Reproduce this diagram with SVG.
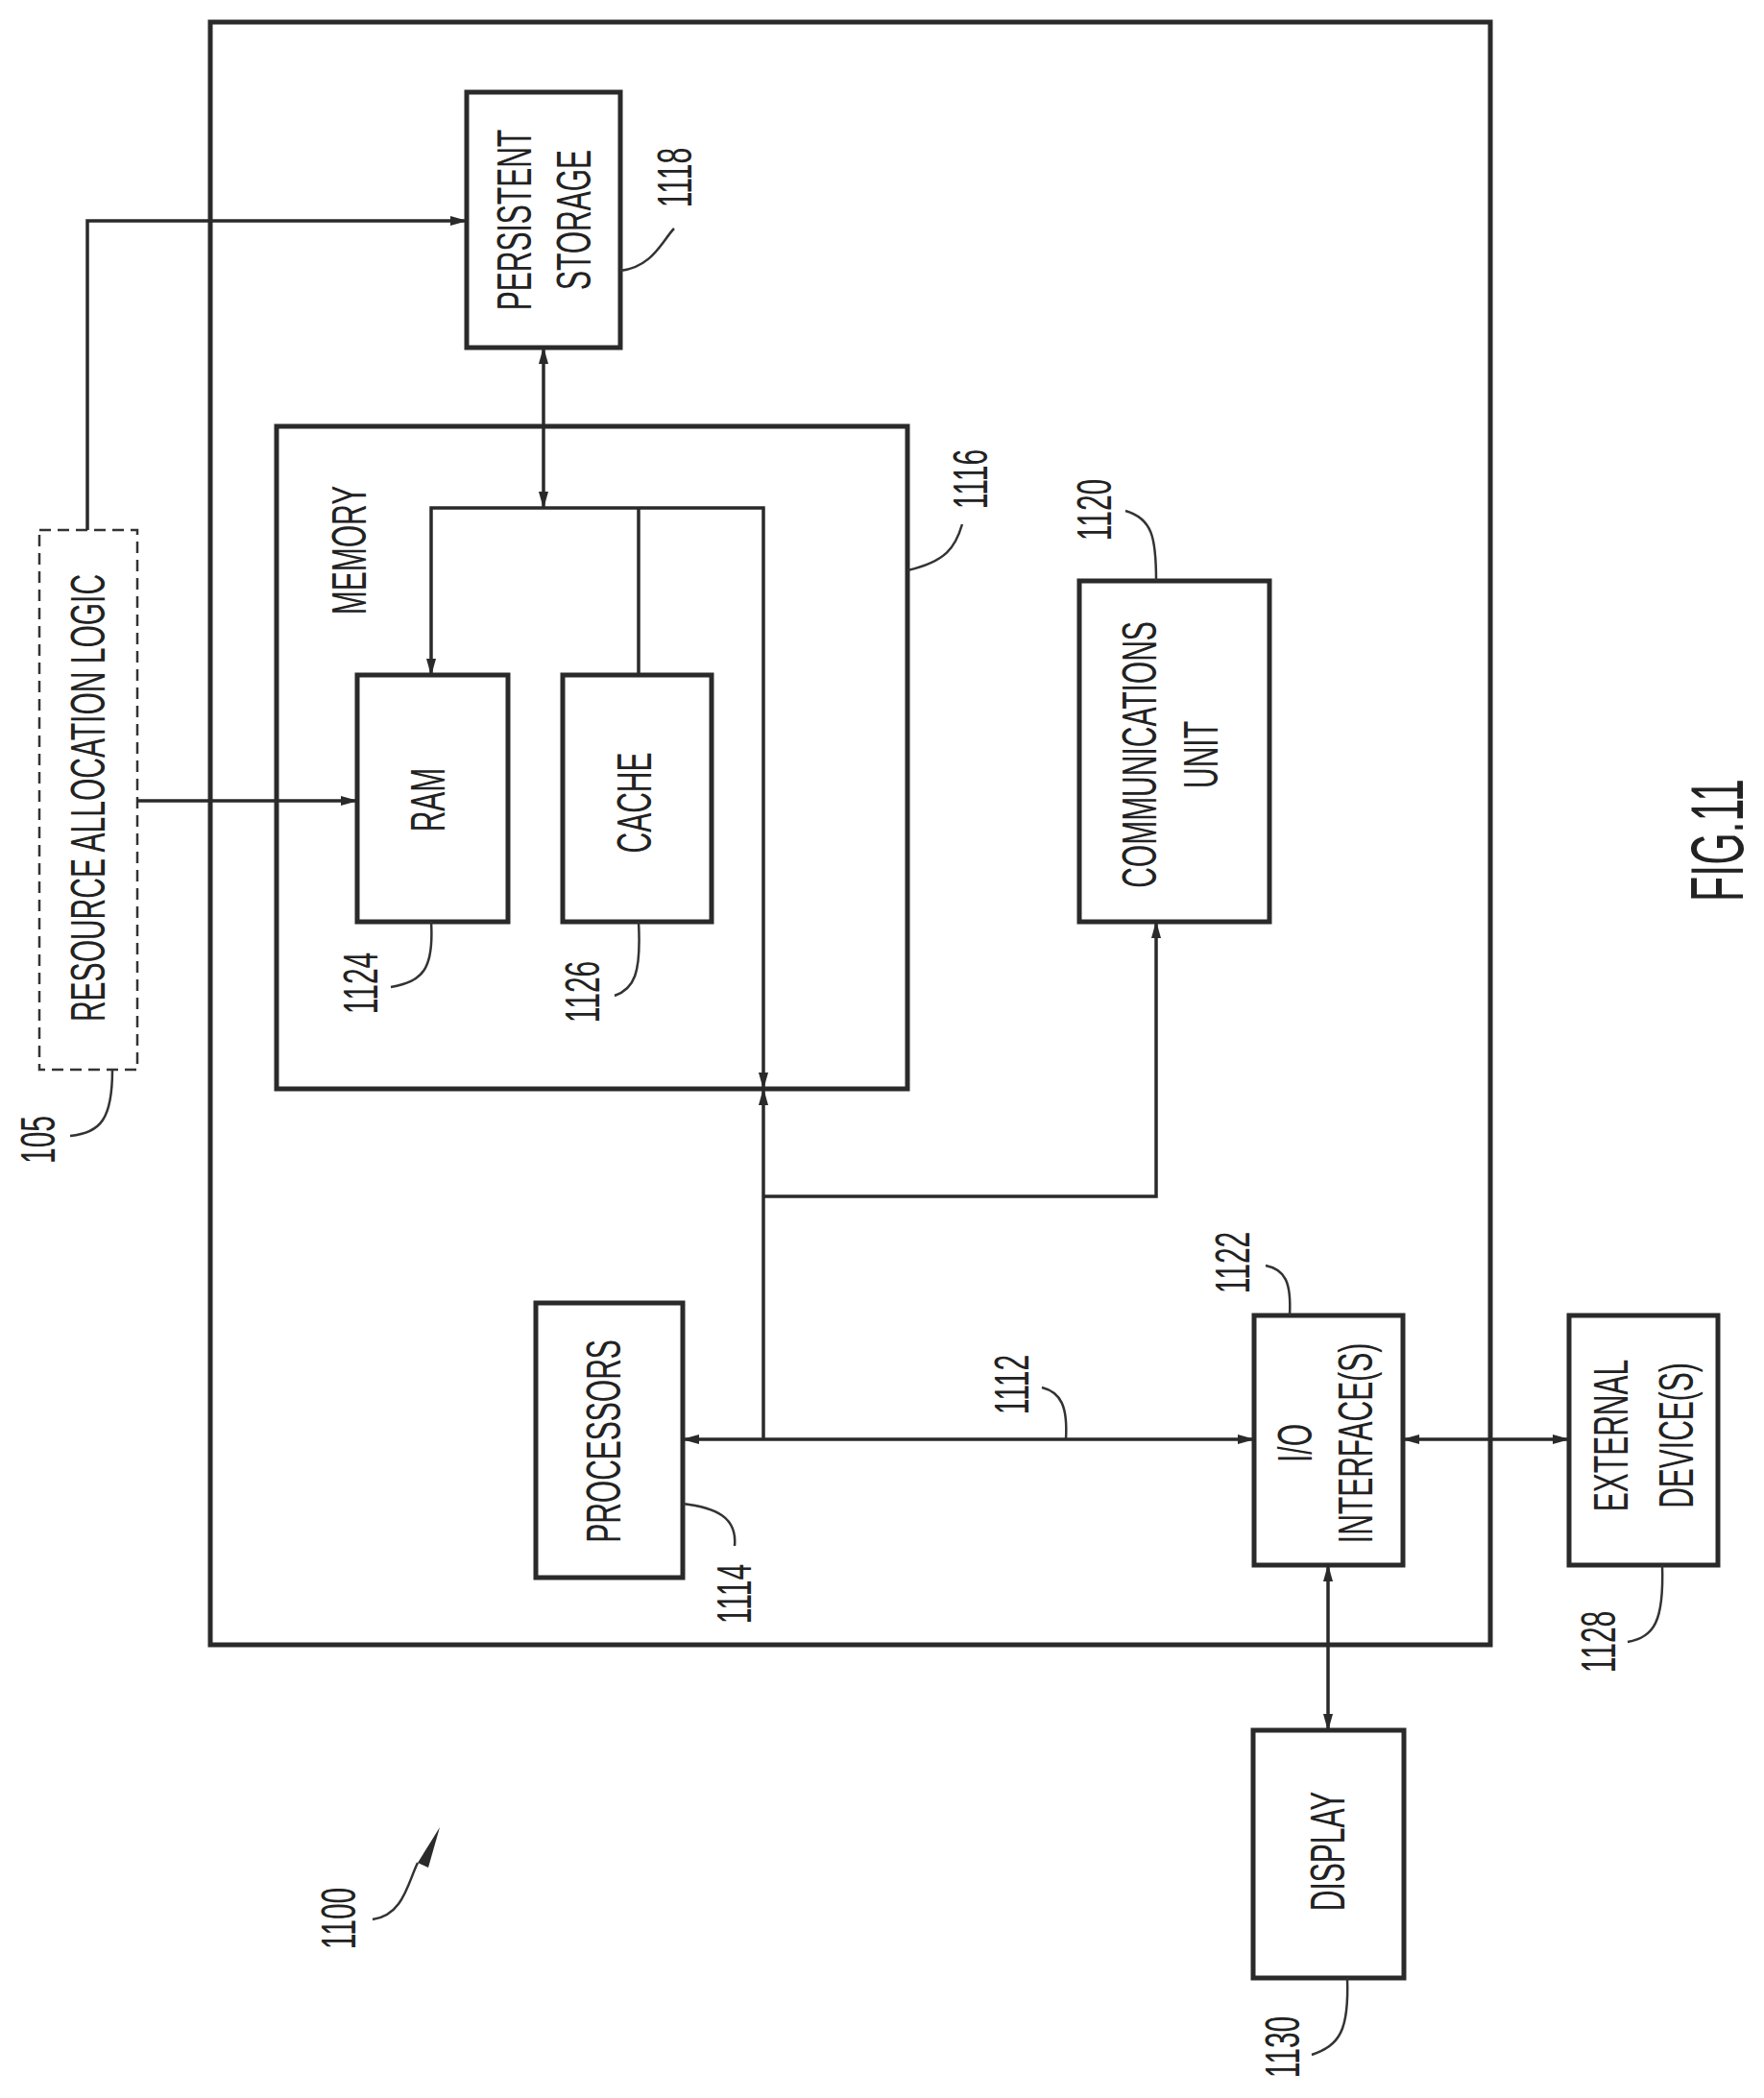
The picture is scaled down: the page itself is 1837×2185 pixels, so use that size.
<svg xmlns="http://www.w3.org/2000/svg" width="1837" height="2185" viewBox="0 0 1837 2185">
<style>
.b{fill:#fff;stroke:#2a2a2a;stroke-width:5}
.l{fill:none;stroke:#2a2a2a;stroke-width:3.5}
.ld{fill:none;stroke:#333;stroke-width:2.5}
text{font-family:"Liberation Sans",Arial,sans-serif;font-size:50px;fill:#222;text-anchor:middle}
.f{font-size:78px}
</style>
<defs>
<marker id="a" markerWidth="18" markerHeight="12" refX="17" refY="6" orient="auto-start-reverse" markerUnits="userSpaceOnUse"><path d="M0,1 L18,6 L0,11 Z" fill="#2a2a2a"/></marker>
</defs>
<rect width="1837" height="2185" fill="#fff"/>
<g id="outer"><rect class="b" x="219" y="23" width="1333" height="1690" fill="none"/></g>
<g id="n1118"><rect class="b" x="486" y="96" width="160" height="266"/>
<text transform="translate(553,229) rotate(-90) scale(0.6,1)">PERSISTENT</text>
<text transform="translate(615,229) rotate(-90) scale(0.6,1)">STORAGE</text>
<text transform="translate(720,185) rotate(-90) scale(0.6,1)">1118</text>
<path class="ld" d="M646,282 C680,278 690,250 702,238"/></g>
<g id="n1116"><rect class="b" x="288" y="444" width="657" height="690" fill="none"/>
<text transform="translate(381,573) rotate(-90) scale(0.6,1)">MEMORY</text>
<text transform="translate(1028,499) rotate(-90) scale(0.6,1)">1116</text>
<path class="ld" d="M945,594 C985,585 995,570 1002,546"/></g>
<g id="n1124"><rect class="b" x="372" y="703" width="157" height="257"/>
<text transform="translate(463,833) rotate(-90) scale(0.6,1)">RAM</text>
<text transform="translate(393,1024) rotate(-90) scale(0.6,1)">1124</text>
<path class="ld" d="M449,960 C452,1010 440,1022 407,1028"/></g>
<g id="n1126"><rect class="b" x="586" y="703" width="155" height="257"/>
<text transform="translate(678,836) rotate(-90) scale(0.6,1)">CACHE</text>
<text transform="translate(624,1033) rotate(-90) scale(0.6,1)">1126</text>
<path class="ld" d="M665,960 C668,1015 660,1030 640,1037"/></g>
<g id="n1120"><rect class="b" x="1124" y="605" width="198" height="355"/>
<text transform="translate(1204,786) rotate(-90) scale(0.6,1)">COMMUNICATIONS</text>
<text transform="translate(1268,786) rotate(-90) scale(0.6,1)">UNIT</text>
<text transform="translate(1157,531) rotate(-90) scale(0.6,1)">1120</text>
<path class="ld" d="M1204,605 C1204,560 1200,540 1172,532"/></g>
<g id="n105"><rect x="41" y="552" width="102" height="562" fill="#fff" stroke="#333" stroke-width="2.5" stroke-dasharray="12,7"/>
<text transform="translate(109,831) rotate(-90) scale(0.6,1)">RESOURCE ALLOCATION LOGIC</text>
<text transform="translate(57,1187) rotate(-90) scale(0.6,1)">105</text>
<path class="ld" d="M117,1114 C117,1165 105,1180 73,1183"/></g>
<g id="n1114"><rect class="b" x="558" y="1357" width="153" height="286"/>
<text transform="translate(646,1501) rotate(-90) scale(0.6,1)">PROCESSORS</text>
<text transform="translate(782,1660) rotate(-90) scale(0.6,1)">1114</text>
<path class="ld" d="M711,1566 C745,1570 768,1580 765,1610"/></g>
<g id="n1122"><rect class="b" x="1306" y="1370" width="155" height="260"/>
<text transform="translate(1366,1503) rotate(-90) scale(0.6,1)">I/O</text>
<text transform="translate(1429,1503) rotate(-90) scale(0.6,1)">INTERFACE(S)</text>
<text transform="translate(1301,1315) rotate(-90) scale(0.6,1)">1122</text>
<path class="ld" d="M1343,1370 C1345,1335 1338,1322 1318,1318"/></g>
<g id="n1128"><rect class="b" x="1634" y="1370" width="155" height="260"/>
<text transform="translate(1695,1495) rotate(-90) scale(0.6,1)">EXTERNAL</text>
<text transform="translate(1763,1495) rotate(-90) scale(0.6,1)">DEVICE(S)</text>
<text transform="translate(1682,1710) rotate(-90) scale(0.6,1)">1128</text>
<path class="ld" d="M1731,1630 C1733,1690 1722,1705 1695,1710"/></g>
<g id="n1130"><rect class="b" x="1305" y="1802" width="157" height="258"/>
<text transform="translate(1400,1928) rotate(-90) scale(0.6,1)">DISPLAY</text>
<text transform="translate(1353,2132) rotate(-90) scale(0.6,1)">1130</text>
<path class="ld" d="M1403,2060 C1405,2115 1395,2130 1366,2140"/></g>
<g id="labels">
<text transform="translate(1071,1442) rotate(-90) scale(0.6,1)">1112</text>
<path class="ld" d="M1110,1499 C1112,1465 1105,1450 1085,1445"/>
<text transform="translate(370,1998) rotate(-90) scale(0.6,1)">1100</text>
<path class="ld" d="M388,1999 C420,1995 425,1960 435,1940"/>
<path d="M435,1940 L458,1903 L446,1945 Z" fill="#2a2a2a"/>
<text class="f" transform="translate(1815,875) rotate(-90) scale(0.55,1)">FIG.11</text>
</g>
<g id="connectors">
<path class="l" d="M91,552 V230 H486" marker-end="url(#a)"/>
<path class="l" d="M143,834 H372" marker-end="url(#a)"/>
<path class="l" d="M566,362 V529" marker-start="url(#a)" marker-end="url(#a)"/>
<path class="l" d="M449,703 V529 H795 V1134" marker-start="url(#a)" marker-end="url(#a)"/>
<path class="l" d="M665,703 V529"/>
<path class="l" d="M795,1499 V1134" marker-end="url(#a)"/>
<path class="l" d="M795,1246 H1204 V960" marker-end="url(#a)"/>
<path class="l" d="M711,1499 H1306" marker-start="url(#a)" marker-end="url(#a)"/>
<path class="l" d="M1461,1499 H1634" marker-start="url(#a)" marker-end="url(#a)"/>
<path class="l" d="M1383,1630 V1802" marker-start="url(#a)" marker-end="url(#a)"/>
</g>
</svg>
